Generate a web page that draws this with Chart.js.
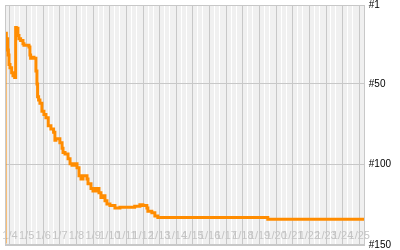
<!DOCTYPE html>
<html>
<head>
<meta charset="utf-8">
<script src="https://cdn.jsdelivr.net/npm/chart.js@4/dist/chart.umd.min.js"></script>
<style>
html,body{margin:0;padding:0;background:#fff;}
#wrap{width:400px;height:250px;}
</style>
</head>
<body>
<div id="wrap"><canvas id="c" width="400" height="250"></canvas></div>
<script>
// x: days since first labelled gridline, y: rank
const days = [-0.30,-0.28,-0.22,-0.14,-0.10,-0.06,0.0,0.10,0.18,0.28,0.34,0.38,0.48,0.54,0.64,0.78,0.84,0.96,1.14,1.20,1.24,1.32,1.44,1.56,1.62,1.66,1.72,1.80,1.92,2.04,2.16,2.30,2.46,2.62,2.70,2.76,3.0,3.13,3.19,3.31,3.49,3.61,3.73,3.91,4.03,4.15,4.27,4.39,4.63,4.69,4.87,4.99,5.17,5.35,5.47,5.59,5.71,5.83,6.01,6.31,6.61,7.09,7.50,7.81,7.99,8.23,8.29,8.53,8.71,8.89,9.01,15.5,15.52,21.33];
const ranks = [149,21,18.5,22,29,32,38,40,43,45,46,15,15.5,20,22,23,25,26,26,27,32,34,33.5,34,42,50,58,60,62,67,69,71,76,78,80,85,84,86.5,90,92.5,93.5,96.5,99.5,100.5,99.5,102,107,109,107,109,112,115,116.5,115,117.5,120.5,119.5,122.5,124.5,125.5,127,126.5,126.5,126,125,125.5,127,129,130,132,133,133,134,134];
const xLabels = ["1/4","1/5","1/6","1/7","1/8","1/9","1/10","1/11","1/12","1/13","1/14","1/15","1/16","1/17","1/18","1/19","1/20","1/21","1/22","1/23","1/24","1/25"];
const yTicks = [1,50,100,150];

const points = days.map((d,i)=>({x:d,y:ranks[i]}));

const bgPlugin = {
  id:'bg',
  beforeDraw(chart){
    const a = chart.chartArea, ctx = chart.ctx;
    ctx.save();
    ctx.fillStyle = '#f0f0f0';
    ctx.fillRect(a.left, a.top, a.right-a.left, a.bottom-a.top);
    ctx.restore();
  },
  afterDraw(chart){
    const a = chart.chartArea, ctx = chart.ctx;
    ctx.save();
    ctx.strokeStyle = '#c8c8c8';
    ctx.lineWidth = 1;
    ctx.strokeRect(Math.round(a.left)+0.5, Math.round(a.top)+0.5, Math.round(a.right-a.left)-1, Math.round(a.bottom-a.top)-1);
    ctx.restore();
  }
};

function flatX(s){ s.height = 0; s.paddingLeft = 0; s.paddingRight = 0; s.paddingTop = 0; s.paddingBottom = 0; }

new Chart(document.getElementById('c'), {
  type:'line',
  data:{datasets:[{
    data:points,
    borderColor:'#ff8c00',
    borderWidth:3,
    pointRadius:0,
    stepped:'after',
    fill:false
  }]},
  options:{
    responsive:false,
    animation:false,
    layout:{padding:{left:5,top:5,right:5,bottom:5}},
    plugins:{legend:{display:false},tooltip:{enabled:false}},
    scales:{
      x2:{
        type:'linear', position:'bottom', min:-0.30, max:21.33,
        afterBuildTicks(s){
          const t=[];
          for(let i=-1;i<=21;i++){ t.push({value:i+0.3}); t.push({value:i+0.6}); }
          s.ticks=t.filter(o=>o.value>s.min&&o.value<s.max);
        },
        afterFit: flatX,
        ticks:{display:false},
        grid:{color:'#ffffff',lineWidth:1,drawTicks:false},
        border:{display:false}
      },
      x:{
        type:'linear', position:'bottom', min:-0.30, max:21.33,
        afterBuildTicks(s){ s.ticks = xLabels.map((l,i)=>({value:i})); },
        afterFit: flatX,
        ticks:{
          autoSkip:false, maxRotation:0, minRotation:0, mirror:true, padding:2,
          color:'#c4c4c4',
          font:{family:'Liberation Sans, Arial', size:11},
          callback(v,i){ return xLabels[i]; }
        },
        grid:{color:'#c8c8c8',lineWidth:1,drawTicks:false},
        border:{display:false}
      },
      y:{
        type:'linear', position:'right', reverse:true, min:1, max:150,
        afterBuildTicks(s){ s.ticks = yTicks.map(v=>({value:v})); },
        afterFit(s){ s.paddingTop = 0; s.paddingBottom = 0; },
        ticks:{
          padding:4, color:'#000',
          font:{family:'Liberation Sans, Arial', size:10},
          callback(v){ return '#'+v; }
        },
        grid:{color:'#c8c8c8',lineWidth:1,drawTicks:false},
        border:{display:false}
      }
    }
  },
  plugins:[bgPlugin]
});
</script>
</body>
</html>
